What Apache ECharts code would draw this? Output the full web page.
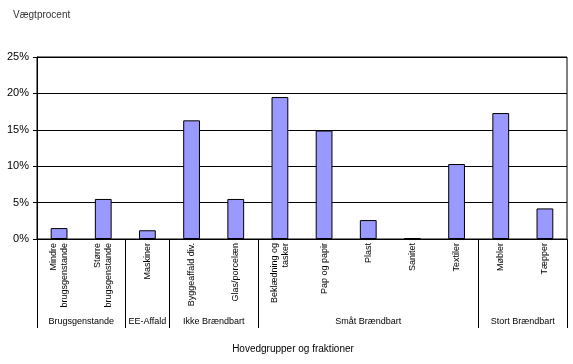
<!DOCTYPE html>
<html>
<head>
<meta charset="utf-8">
<script src="https://cdn.jsdelivr.net/npm/echarts@6/dist/echarts.min.js"></script>
<style>html,body{margin:0;padding:0;background:#fff}#c{width:573px;height:364px}</style>
</head>
<body>
<div id="c"></div>
<script>
const categories = ["Mindre\nbrugsgenstande", "Større\nbrugsgenstande", "Maskiner", "Byggeaffald div.", "Glas/porcelæn", "Beklædning og\ntasker", "Pap og papir", "Plast", "Sanitet", "Textiler", "Møbler", "Tæpper"];
const values = [1.5, 5.5, 1.2, 16.3, 5.5, 19.5, 14.9, 2.6, 0.1, 10.3, 17.3, 4.2];
const groupNames = ["Brugsgenstande", "EE-Affald", "Ikke Brændbart", "Småt Brændbart", "Stort Brændbart"];
const groupSizes = [2, 1, 2, 5, 2];
const yTicks = [0, 5, 10, 15, 20, 25];

// half-category positions for group axis (boundaryGap false, 2 points per category)
const nHalf = categories.length * 2 + 1;
const groupData = new Array(nHalf).fill('');
const boundaryIdx = new Set([0]);
const labelIdx = new Set();
let acc = 0;
groupSizes.forEach((s, i) => {
  const center = acc * 2 + s;
  groupData[center] = groupNames[i];
  labelIdx.add(center);
  acc += s;
  boundaryIdx.add(acc * 2);
});

const chart = echarts.init(document.getElementById('c'), null, {renderer: 'canvas'});
const font = 'Liberation Sans, Arial, sans-serif';
chart.setOption({
  animation: false,
  title: {
    text: 'Vægtprocent', left: 8, top: 5,
    textStyle: {fontFamily: font, fontSize: 10, fontWeight: 'normal', color: '#333'}
  },
  grid: {left: 37, right: 6, top: 57, bottom: 125, show: true, borderColor: '#000', borderWidth: 1},
  xAxis: [{
    type: 'category', data: categories, position: 'bottom',
    axisLine: {lineStyle: {color: '#000', width: 1}},
    axisTick: {show: false},
    axisLabel: {rotate: 90, interval: 0, margin: 4, fontFamily: font, fontSize: 9, color: '#000', lineHeight: 11}
  }, {
    type: 'category', data: groupData, position: 'bottom', boundaryGap: false,
    axisLine: {show: false},
    axisTick: {show: true, length: 89, interval: (i) => boundaryIdx.has(i), lineStyle: {color: '#000', width: 1}},
    axisLabel: {interval: (i) => labelIdx.has(i), margin: 78, fontFamily: font, fontSize: 9, color: '#000'},
    splitLine: {show: false},
    name: 'Hovedgrupper og fraktioner', nameLocation: 'middle', nameGap: 105,
    nameTextStyle: {fontFamily: font, fontSize: 10, color: '#000', padding: [0, 18, 0, 0]}
  }],
  yAxis: {
    type: 'value', min: yTicks[0], max: yTicks[yTicks.length - 1], interval: 5,
    axisLine: {show: true, lineStyle: {color: '#000', width: 1}},
    axisTick: {show: true, length: 4, lineStyle: {color: '#000'}},
    axisLabel: {formatter: '{value}%', margin: 8, fontFamily: font, fontSize: 11, color: '#000'},
    splitLine: {lineStyle: {color: '#000', width: 1}}
  },
  series: [{
    type: 'bar', data: values, xAxisIndex: 0, barWidth: '38%',
    itemStyle: {color: '#9999FF', borderColor: '#000', borderWidth: 1}
  }]
});
</script>
</body>
</html>
